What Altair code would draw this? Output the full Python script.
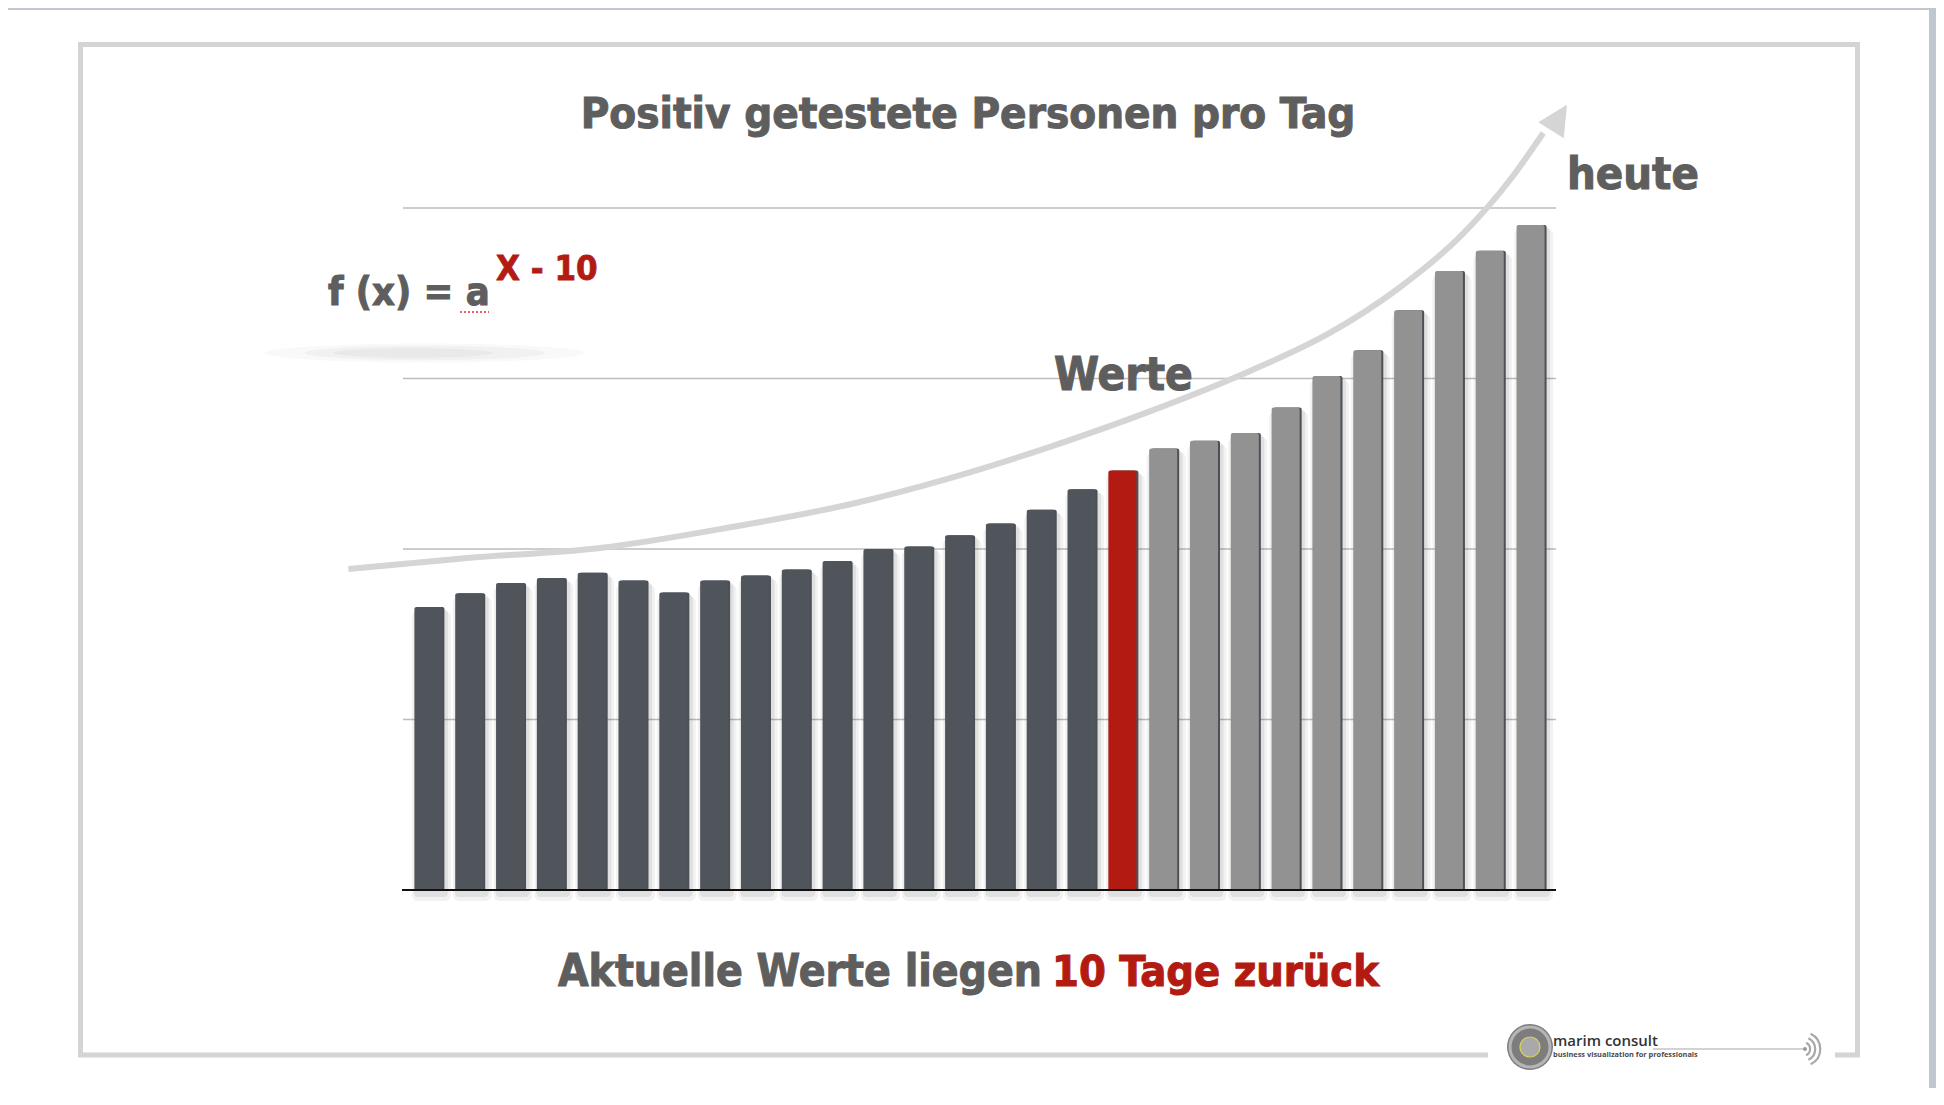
import altair as alt
import pandas as pd

# ---------------- data ----------------
days = list(range(1, 29))
values = [1.66, 1.74, 1.80, 1.83, 1.86, 1.815, 1.745, 1.815, 1.845, 1.88,
          1.93, 2.00, 2.015, 2.08, 2.15, 2.23, 2.35, 2.46, 2.59, 2.635,
          2.68, 2.83, 3.015, 3.165, 3.40, 3.63, 3.75, 3.90]
groups = ["vergangen"] * 17 + ["vor 10 Tagen"] + ["letzte Tage"] * 10
group_names = ["vergangen", "vor 10 Tagen", "letzte Tage"]
group_colors = ["#50555c", "#b31b12", "#929292"]
grid_values = [1, 2, 3, 4]
baseline_value = [0]

# trend arrow (decoration) in data units
arrow_x = [-0.96, 1.96, 5.21, 8.44, 11.36, 13.78, 16.21, 18.64, 21.07, 23.08, 24.71, 26.34, 27.55, 28.31]
arrow_y = [1.883, 1.947, 2.006, 2.129, 2.264, 2.416, 2.598, 2.804, 3.038, 3.267, 3.519, 3.848, 4.182, 4.44]

title_text = "Positiv getestete Personen pro Tag"
formula_base = "f (x) = a"
formula_exp = "X - 10"
label_today = "heute"
label_values = "Werte"
footer_gray = "Aktuelle Werte liegen"
footer_red = "10 Tage zurück"
logo_name = "marim consult"
logo_sub = "business visualization for professionals"

# ---------------- styling ----------------
W, H = 1153, 682
GRAY_TXT = "#5e5e5e"
RED = "#b31b12"
FONT = "DejaVu Sans Condensed, DejaVu Sans, sans-serif"
WEIGHT = "bold"

bars_df = pd.DataFrame({"day": days, "v": values, "grp": groups})
xs = alt.Scale(domain=[0.5, 28.5], nice=False, zero=False)
ys = alt.Scale(domain=[0, 4], nice=False)
X = alt.X("day:Q", scale=xs, axis=None)
Y = alt.Y("v:Q", scale=ys, axis=None)


def one(label="x"):
    return alt.Chart(pd.DataFrame({"t": [label]}))


def txt(label, x, y, size, color, align="left", font=FONT, weight=WEIGHT, heavy=0.0):
    kw = {}
    if heavy > 0:
        kw = {"stroke": color, "strokeWidth": heavy}
    return one(label).mark_text(align=align, baseline="alphabetic", fontSize=size,
                                font=font, fontWeight=weight, color=color, **kw).encode(
        text="t:N", x=alt.value(x), y=alt.value(y))


def rect(x, x2, y, y2, **kw):
    return one().mark_rect(**kw).encode(x=alt.value(x), x2=alt.value(x2),
                                        y=alt.value(y), y2=alt.value(y2))


def sym(shape, x, y, size, **kw):
    return one().mark_point(shape=shape, size=size, **kw).encode(x=alt.value(x), y=alt.value(y))


# window border strips
strip_right = rect(1526, 1540, -210, 900, color="#c0c7d0")
strip_top = rect(-400, 1540, -210, -198, color="#c0c7d0")

# slide frame
frame = rect(-322.5, 1454.5, -163.5, 847, fillOpacity=0, stroke="#d4d4d4", strokeWidth=5)
frame_gap = rect(1085, 1432, 840, 856, color="white")

# soft shadow under formula
ell = "M-1,0 A1,0.06 0 1,0 1,0 A1,0.06 0 1,0 -1,0 Z"
shadow_ell = alt.layer(
    sym(ell, 22, 145, 320 ** 2, filled=True, color="#000", opacity=0.025),
    sym(ell, 22, 145, 240 ** 2, filled=True, color="#000", opacity=0.03),
    sym(ell, 10, 145, 160 ** 2, filled=True, color="#000", opacity=0.03),
)

# gridlines + baseline
grid = alt.Chart(pd.DataFrame({"g": grid_values})).mark_rule(color="#bdbdbd", strokeWidth=1.3).encode(
    y=alt.Y("g:Q", scale=ys, axis=None), x=alt.value(0), x2=alt.value(W))
baseline = alt.Chart(pd.DataFrame({"g": baseline_value})).mark_rule(color="#111111", strokeWidth=2.2).encode(
    y=alt.Y("g:Q", scale=ys, axis=None), x=alt.value(-1), x2=alt.value(W))

# bars with shadow
base = alt.Chart(bars_df).transform_calculate(zero="0")
Y2 = alt.Y2("zero:Q")
sh1 = base.mark_bar(width=39, xOffset=3, yOffset=4, y2Offset=11, color="#000", opacity=0.05,
                    cornerRadius=6).encode(x=X, y=Y, y2=Y2)
sh2 = base.mark_bar(width=34, xOffset=2.5, yOffset=2, y2Offset=7, color="#000", opacity=0.07,
                    cornerRadius=4).encode(x=X, y=Y, y2=Y2)
side = base.mark_bar(width=28, xOffset=2, color="#4c5158", cornerRadiusTopLeft=2,
                     cornerRadiusTopRight=2).encode(x=X, y=Y, y2=Y2)
bars = base.mark_bar(width=28, cornerRadiusTopLeft=2, cornerRadiusTopRight=2).encode(
    x=X, y=Y, y2=Y2,
    color=alt.Color("grp:N", scale=alt.Scale(domain=group_names, range=group_colors), legend=None))

# trend arrow
arrow_df = pd.DataFrame({"day": arrow_x, "v": arrow_y, "o": list(range(len(arrow_x)))})
arrow = alt.Chart(arrow_df).mark_line(color="#d5d5d5", strokeWidth=6, interpolate="monotone",
                                      strokeCap="butt").encode(x=X, y=Y, order="o:Q")
head_path = "M0,-1 L-1,1 L1,1 Z"
arrow_head = sym(head_path, 1156, -90.5, 900, filled=True, color="#d5d5d5", opacity=1, angle=32)

# texts
t_title = txt(title_text, 565, -80, 43.5, GRAY_TXT, align="center", heavy=1.0)
t_heute = txt(label_today, 1164, -19, 45, GRAY_TXT, heavy=1.0)
t_werte = txt(label_values, 651, 182, 45.5, GRAY_TXT, heavy=1.0)
t_f = txt(formula_base, -75, 97, 39.5, GRAY_TXT, heavy=1.0)
t_exp = txt(formula_exp, 93, 72, 34.5, RED, heavy=0.8)
underline = one().mark_rule(color="#e03030", strokeWidth=1.5, strokeDash=[2, 2]).encode(
    x=alt.value(57), x2=alt.value(86), y=alt.value(104))
t_foot1 = txt(footer_gray, 639, 778, 44, GRAY_TXT, align="right", heavy=1.0)
t_foot2 = txt(footer_red, 649, 778, 43, RED, align="left", heavy=1.0)

# logo
logo_icon = alt.layer(
    sym("circle", 1127, 839, 46 ** 2, filled=True, color="#7d7d7d", opacity=1),
    sym("circle", 1127, 839, 40 ** 2, filled=False, color="#b5b5b5", strokeWidth=3, opacity=1),
    sym("circle", 1127, 839, 20 ** 2, filled=True, color="#a9a9a9", opacity=1),
    sym("circle", 1127, 839, 20 ** 2, filled=False, color="#d8d25a", strokeWidth=1.2, opacity=1),
)
logo_line = one().mark_rule(color="#c4c4c4", strokeWidth=1.5).encode(
    x=alt.value(1250), x2=alt.value(1402), y=alt.value(841))
logo_dot = sym("circle", 1402, 841, 16, filled=True, color="#9a9a9a", opacity=1)
arc_path = "M0.45,-0.9 A1,1 0 0,1 0.45,0.9"
logo_arcs = alt.layer(*[
    sym(arc_path, 1400, 841, d ** 2, filled=False, color="#a8a8a8", strokeWidth=2.2, opacity=1)
    for d in (14, 24, 34)
])
t_logo1 = txt(logo_name, 1150, 838, 15, "#333333", font="Open Sans", weight=600)
t_logo2 = txt(logo_sub, 1150, 849, 7.4, "#4a4a4a", font="Open Sans", weight="bold")

chart = alt.layer(
    strip_right, strip_top, frame, frame_gap, shadow_ell,
    grid, sh1, sh2, side, bars, baseline,
    arrow, arrow_head,
    t_title, t_heute, t_werte, t_f, t_exp, underline, t_foot1, t_foot2,
    logo_line, logo_dot, logo_arcs, logo_icon, t_logo1, t_logo2,
).properties(
    width=W, height=H,
    autosize=alt.AutoSizeParams(type="none"),
    padding={"left": 395, "top": 200, "right": 380, "bottom": 198},
    background="white",
).configure_view(stroke=None)

chart.save("out.html", embed_options={"renderer": "svg", "actions": False})
